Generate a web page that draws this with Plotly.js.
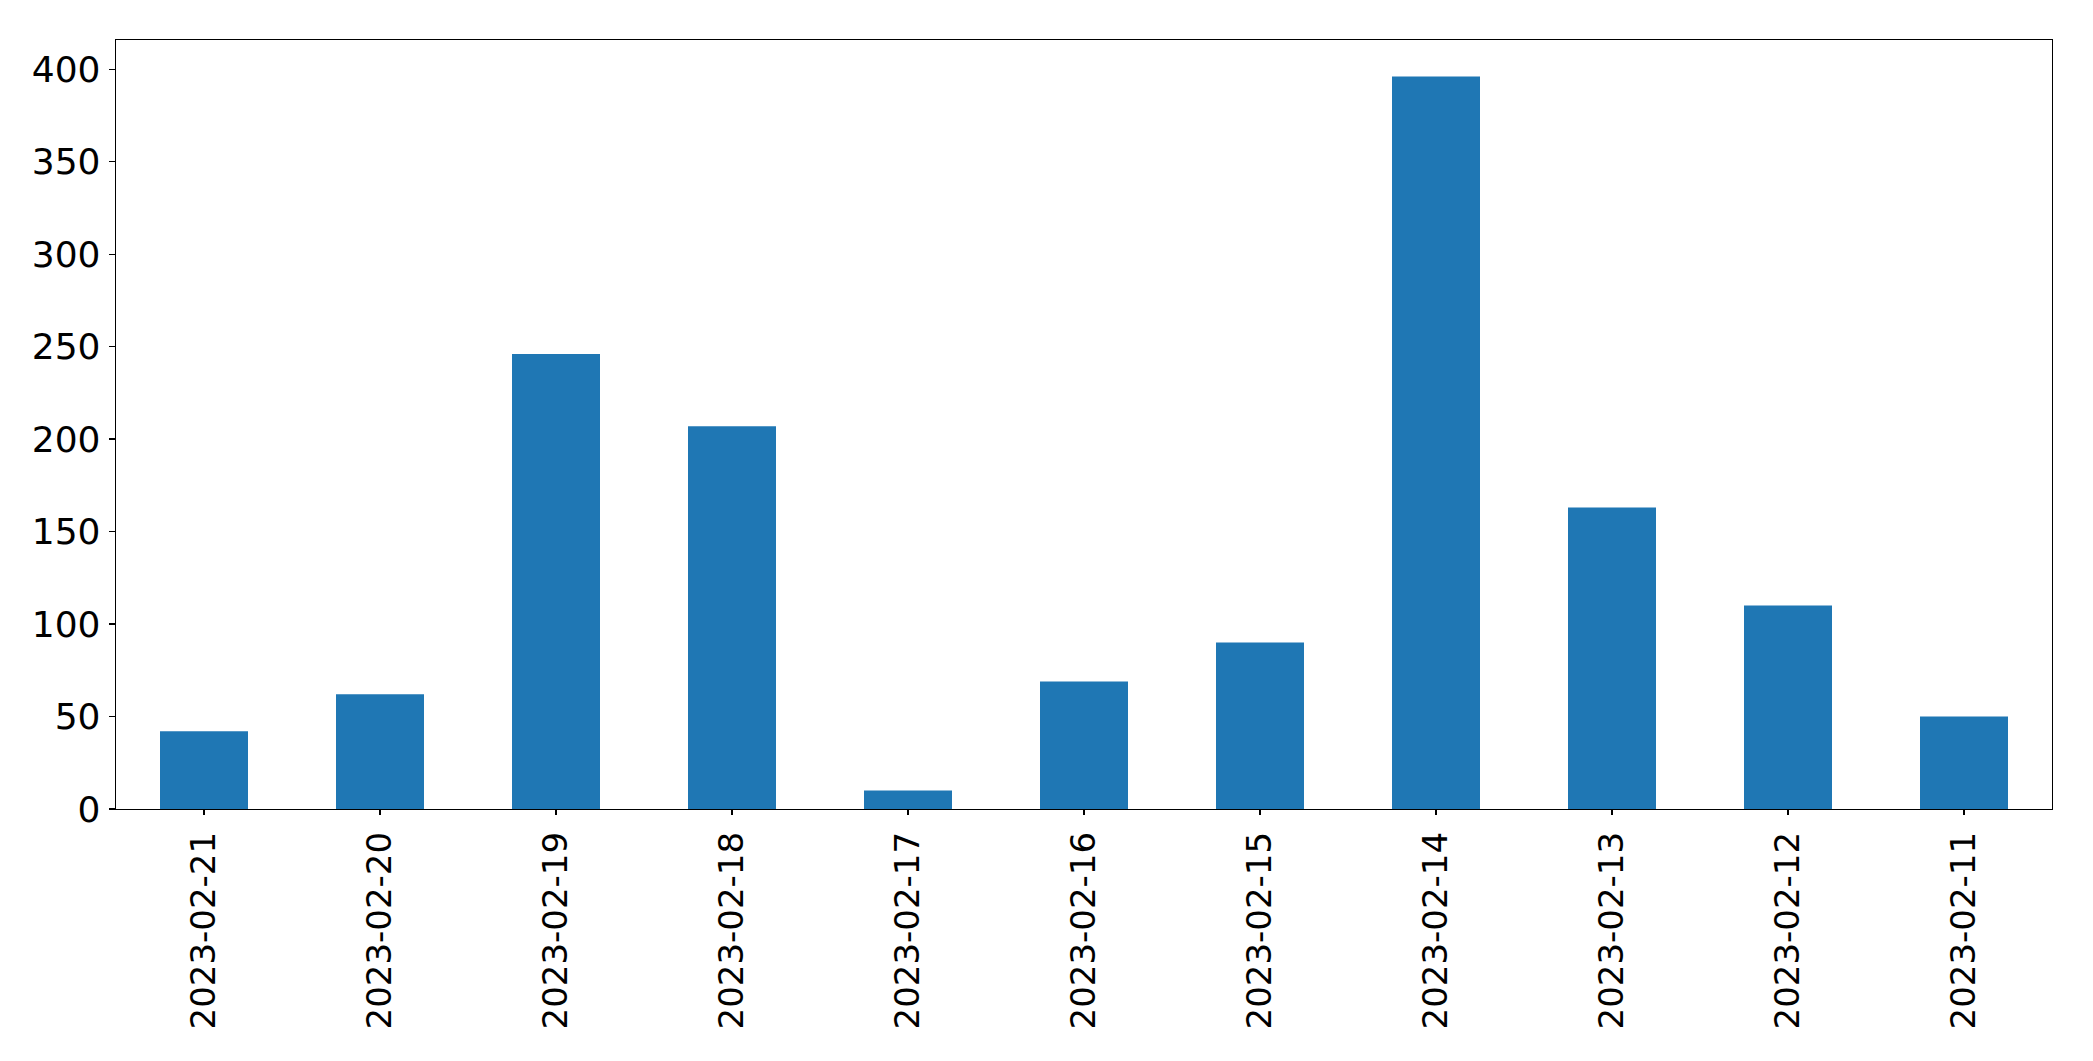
<!DOCTYPE html>
<html>
<head>
<meta charset="utf-8">
<script src="https://cdn.plot.ly/plotly-3.0.1.min.js"></script>
<style>
  html, body { margin: 0; padding: 0; background: #fff; }
  #grafico { width: 2093px; height: 1061px; }
</style>
</head>
<body>
<div id="grafico"></div>
<script>
// fechas y conteos
var fechas = ["2023-02-21","2023-02-20","2023-02-19","2023-02-18","2023-02-17","2023-02-16",
              "2023-02-15","2023-02-14","2023-02-13","2023-02-12","2023-02-11"];
var valores = [42, 62, 246, 207, 10, 69, 90, 396, 163, 110, 50];
var ticksY = [0, 50, 100, 150, 200, 250, 300, 350, 400];

var data = [{
  x: fechas,
  y: valores,
  type: "bar",
  width: 0.5,
  marker: { color: "#1f77b4", line: { width: 0 } },
  hoverinfo: "x+y"
}];

var layout = {
  width: 2093,
  height: 1061,
  margin: { l: 116, r: 41, t: 40, b: 252 },
  paper_bgcolor: "#ffffff",
  plot_bgcolor: "#ffffff",
  font: { family: "DejaVu Sans", size: 34, color: "#000000" },
  showlegend: false,
  xaxis: {
    type: "category",
    range: [-0.5, fechas.length - 0.5],
    tickangle: -90,
    tickfont: { size: 34 },
    ticks: "outside",
    ticklen: 5,
    tickwidth: 1.3,
    tickcolor: "#000",
    showline: true,
    mirror: true,
    linecolor: "#000",
    linewidth: 1.3,
    showgrid: false,
    zeroline: false,
    ticklabelstandoff: 3
  },
  yaxis: {
    range: [0, 415.8],
    tickvals: ticksY,
    tickfont: { size: 36 },
    ticks: "outside",
    ticklen: 6,
    tickwidth: 1.3,
    tickcolor: "#000",
    showline: true,
    mirror: true,
    linecolor: "#000",
    linewidth: 1.3,
    showgrid: false,
    zeroline: false,
    ticklabelstandoff: 1
  }
};

Plotly.newPlot("grafico", data, layout, { displayModeBar: false, staticPlot: true });
</script>
</body>
</html>
